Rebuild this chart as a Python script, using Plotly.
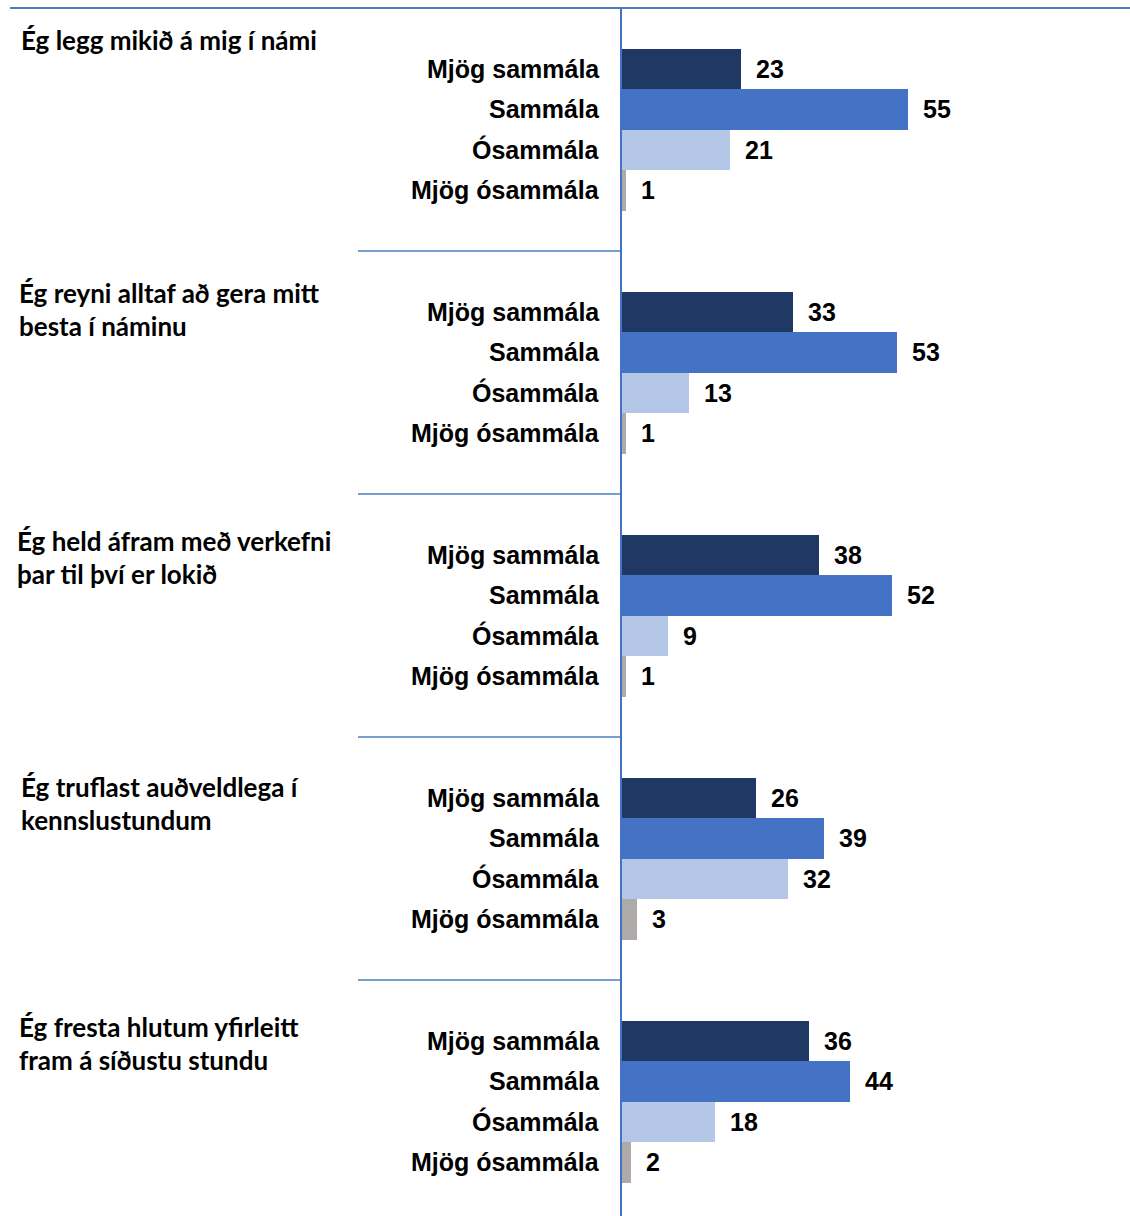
import plotly.graph_objects as go

# ---- data ----
statements = [
    ["Ég legg mikið á mig í námi"],
    ["Ég reyni alltaf að gera mitt", "besta í náminu"],
    ["Ég held áfram með verkefni", "þar til því er lokið"],
    ["Ég truflast auðveldlega í", "kennslustundum"],
    ["Ég fresta hlutum yfirleitt", "fram á síðustu stundu"],
]
responses = ["Mjög sammála", "Sammála", "Ósammála", "Mjög ósammála"]
mjog_sammala = [23, 33, 38, 26, 36]
sammala = [55, 53, 52, 39, 44]
osammala = [21, 13, 9, 32, 18]
mjog_osammala = [1, 1, 1, 3, 2]
series = [mjog_sammala, sammala, osammala, mjog_osammala]

# ---- style / layout ----
colors = ["#203864", "#4472C4", "#B4C7E7", "#AEAAAA"]
W, H = 1130, 1216
L, T = 621, 8
GROUP = 6  # units per statement block
Y_TOP = -1.5
PX_PER_UNIT = 40.5
plot_h = H - T
Y_BOT = Y_TOP + plot_h / PX_PER_UNIT
X_MAX = (W - L) / 5.21

title_x_px = [19, 17, 15, 19, 17]
title_dy_px = [-29, -19, -14, -11, -14]  # first-line centre relative to first bar
title_line_px = 33

def ypos(g, k):
    return g * GROUP + k

def ypaper(u):
    return 1 - (u - Y_TOP) / (Y_BOT - Y_TOP)

fig = go.Figure()
for k, (name, vals) in enumerate(zip(responses, series)):
    fig.add_trace(go.Bar(
        orientation="h",
        x=vals,
        y=[ypos(g, k) for g in range(len(vals))],
        width=1,
        marker=dict(color=colors[k], line=dict(width=0)),
        name=name,
        showlegend=False,
        hoverinfo="skip",
    ))

annotations = []
lab_font = dict(family="Liberation Sans, Arial", size=25, color="#000000", weight="bold")
for g in range(len(statements)):
    for k, name in enumerate(responses):
        y = ypos(g, k)
        annotations.append(dict(
            x=0, y=y, xref="x", yref="y", text=name, showarrow=False,
            xanchor="right", yanchor="middle", xshift=-19, font=lab_font))
        annotations.append(dict(
            x=series[k][g], y=y, xref="x", yref="y", text=str(series[k][g]),
            showarrow=False, xanchor="left", yanchor="middle", xshift=13, font=lab_font))
    for i, line in enumerate(statements[g]):
        annotations.append(dict(
            x=(title_x_px[g] - L) / (W - L), y=ypos(g, 0), xref="paper", yref="y",
            text=line, showarrow=False, xanchor="left", yanchor="middle",
            yshift=-(title_dy_px[g] + i * title_line_px),
            font=dict(family="Lato, Carlito, Calibri", size=26, color="#000000", weight="bold")))

shapes = []
line_col = "#4A7EBB"
# top rule
shapes.append(dict(type="line", xref="paper", yref="paper",
                   x0=(10 - L) / (W - L), x1=1, y0=1, y1=1,
                   line=dict(color=line_col, width=2)))
for g in range(1, len(statements)):
    yp = ypaper(Y_TOP + g * GROUP)
    shapes.append(dict(type="line", xref="paper", yref="paper",
                       x0=(358 - L) / (W - L), x1=0, y0=yp, y1=yp,
                       line=dict(color=line_col, width=1.5)))
# vertical axis
shapes.append(dict(type="line", xref="paper", yref="paper",
                   x0=0, x1=0, y0=0, y1=1,
                   line=dict(color="#4472C4", width=2)))

fig.update_layout(
    width=W, height=H,
    margin=dict(l=L, r=0, t=T, b=0, pad=0),
    paper_bgcolor="white", plot_bgcolor="white",
    barmode="overlay", bargap=0,
    xaxis=dict(range=[0, X_MAX], visible=False, fixedrange=True),
    yaxis=dict(range=[Y_BOT, Y_TOP], visible=False, fixedrange=True),
    annotations=annotations,
    shapes=shapes,
)

fig.write_html(
    "out.html",
    config={"displayModeBar": False},
    post_script="document.body.style.margin='0';document.body.style.padding='0';document.body.style.overflow='hidden';",
)
